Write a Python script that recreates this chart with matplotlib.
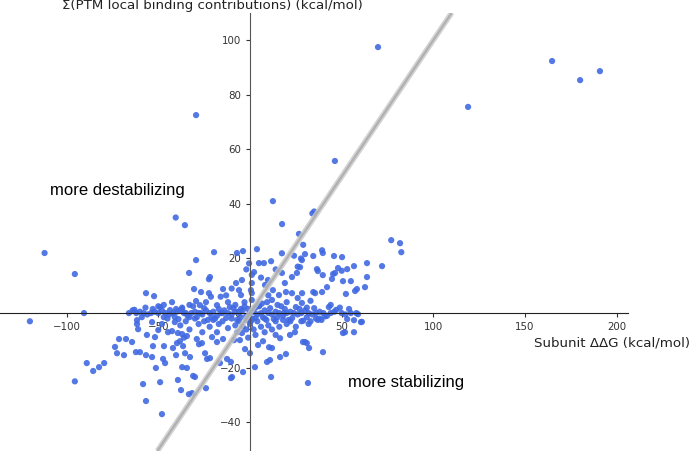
import numpy as np
import matplotlib
matplotlib.use("Agg")
import matplotlib.pyplot as plt

# ---- data (Subunit ddG, sum of PTM local binding contributions) ----
sparse_x = [-120, -112, -95.5, -90.5, -95.5, -29.4, -40.5, -35.5, 12.5, 17.5, 26.7, 29, 34, 35,
            46.3, 69.8, 118.9, 164.7, 180, 190.8]
sparse_y = [-3, 22, 14.3, 0, -25, 72.5, 35, 32.2, 41, 32.6, 29, 25, 36.5, 37.2,
            55.7, 97.4, 75.5, 92.3, 85.3, 88.6]

right_x = [77, 81.8, 82.5, 72, 63.8, 56.7, 53, 63.8, 55, 62.7, 58.3, 57.3, 52.3, 58.9, 56.7, 61,
           56.7, 51.8, 50.2, 45.8, 39.3, 39.7, 34.5, 30, 27.8, 27.3, 36.5, 37, 39.7, 45.3, 46.4,
           48, 50, 44.7, 50.7, 42, 39.3, 34.5, 35.5, 28.3, 38, 39, 60.5, 50.7, 32.2, 39.8, 30]
right_y = [26.7, 25.6, 22.3, 17.2, 18.3, 17.2, 16.1, 13.2, 11.7, 9.5, 8.8, 8.1, 7, -0.4, -2.6, -3.2,
           -7, -7, 20.5, 20.9, 23, 22, 20.9, 21.6, 20, 16.8, 16.1, 15.4, 13.9, 14.3, 14.7,
           16.5, 15.5, 12.5, 11.7, 9.5, 7.7, 7.7, 7.3, 3.7, -2, -2.5, -3.3, -7.3, -12.8, -14.3, -10.6]

upper_x = [-19.6, -3.8, 3.8, 17.4, -7.1, -0.5, 4.9, 7.6, 11.5, 26, 28.3, 2.2, 1, -4.4, -7.6, -14.7,
           1, -6, -4.9, 0.5, 1, 8.2, 9.8, 12.5, 15.8, 19.6, 19, 17.4, 22.9, 25.6, 22.9, 28.4, 12,
           9.3, 1, -12, -18, -21.8, -29.4, -33.2, -22.4, -30.5, -26.7, -22.4, -21.3, -56.7, -52.3,
           -42.5, -29.4, -27.3, -40.3, -43.6, -37, 24, -2, 6, 14, -10, -16,
           -8, -3, 5, 15, 20, 26, 31, 33, -24, -33, -47, -50, -57, -64, 44, 49, 54, 10, -13, -5, 3]
upper_y = [22.3, 22.7, 23.4, 21.9, 22, 18.2, 18.3, 18.3, 19, 17, 19.4, 15, 14, 12.1, 11, 8.8,
           11, 8.4, 6.6, 8.4, 7.3, 10.3, 12.1, 8.4, 6.6, 7.7, 11, 14.7, 13.2, 14.7, 7.3, 7.3, 4.8,
           4, 4.8, 4, 2.9, 13.2, 19.4, 14.7, 12.4, 8.8, 7.7, 7.3, 6, 7.3, 6.2,
           4, 4.4, 2.9, 1.5, 1.1, 1.5, 21, 16, 13, 16, 9, 6,
           3, 4, 2.5, 3, 4, 5.5, 2, 4.5, 4, 3, 3, 2.5, 2, 1, 3, 2, 1.5, 6.5, 6.5, 1.5, 2]

band_x = [-66, -62, -60, -58, -56, -54, -52, -50, -48, -46, -44, -42, -40, -38, -36, -34, -32, -30,
          -28, -26, -24, -22, -20, -18, -16, -14, -12, -10, -8, -6, -4, -2, 0, 2, 4, 6, 8, 10,
          12, 14, 16, 18, 20, 22, 24, 26, 28, 30, 32, 34, 36, 38, 40, 42, 44, 46, 50, 52, 55, 58,
          -59, -53, -47, -41, -37, -33, -29, -25, -21, -17, -13, -9, -5, -1, 3, 7, 11, 15, 19,
          23, 27, 31, 35, 41, 47, -63, -49, -39, -31, -23, -19, -11, -7, -3, 1, 5, 9, 13, 17, 21,
          25, 29, 37, 43, 53, -35, -27, -15, 0.5, 6.5, 18.5, 33]
band_y = [0, 0, 0.5, 0, -0.5, 0, 0.5, 0, 1, 0, -0.5, 0, 0.5, 1, 0, -1, 0, 0.5,
          0, -0.5, 1, 0, 0.5, -1, 0, 1, 0, -0.5, 0.5, 0, 1, -1, 0, 0.5, -0.5, 0, 1, 0,
          -0.5, 0.5, 0, -1, 0, 0.5, 0, -0.5, 0, 1, 0, -0.5, 0, 0.5, 0, -1, 0, 0.5, 0, -0.5, 0, 0,
          -1.5, 1.5, -1.5, -1.5, 2, -1.5, -1.5, 1.8, -1.5, 1.5, -1.8, 1.8, -1.5, 1.5, -1.8, -1.5,
          1.8, -1.5, 1.5, -1.8, 1.5, -1.5, 1.8, -1.2, 1.2, 1.2, 2.2, -2.2, 2.5, -2.5, -2, 2.2,
          -2.5, 2.5, -2.2, 2.8, -2.5, -2.2, 2.5, -2.5, 2.2, -2.8, -2.5, 2.2, -2.2, 0, 0, 0, -3, 3.5, 0, -3]

lower_x = [-61.6, -61, -56.2, -51.8, -50, -44.7, -42.5, -71.4, -67.6, -64.3, -73.6, -72.5, -68.7,
           -62.2, -60, -56.7, -53.4, -52.9, -46.9, -47.4, -46.3, -51.3, -42, -40.3, -39.8, -38.2,
           -36.5, -39.3, -37, -34.4, -32.7, -35.4, -37, -34.4, -31, -30, -39.3, -49, -58.3, -37.6,
           -33.3, -31.6, -24, -56.7, -48, -27.8, -26.2, -24.5, -23.4, -89, -85.5, -82.3, -79.5,
           -61.6, -53.4, -41, -20.7, -18, -14.7, -21.8, -16.4, -12.5, -10.4, -9.8, -2.7, 0, -8.7,
           -5.5, -4.4, 2.7, 4.4, 7.1, 10.4, 12, 9.3, 10.9, 11.5, 16.4, 19.6, 16.4, 21.8, 24.5, 28.9,
           31, 31.6, -3.8, -10.4,
           -30, -28, -25, -22, -20, -17, -15, -12, -10, -8, -6, -4, -2, 0, 2, 4, 6, 8, 10, 12, 14,
           16, 18, 20, 22, 25, 28, 32, 36, -35, -38, -45, -48, -33, -26, -18, -7, 3, 8, 14, -1, -2,
           1, -36, -29]
lower_y = [-4, -5.9, -8, -8.8, -6.2, -7, -6.6, -9.5, -9.5, -10.6, -12.4, -14.7, -15.4,
           -14.3, -14.3, -15.4, -16.1, -12.1, -12.1, -16.8, -18.3, -20.1, -12.8, -15.4, -11, -10.3,
           -12.1, -7.3, -7.7, -8.4, -16.1, -14.7, -19.8, -20.1, -23, -23.4, -24.5, -25.3, -26, -28.2,
           -29.7, -29.3, -27.5, -32.2, -37, -11.4, -11, -14.7, -16.8, -18.3, -21.2, -19.8, -18.3,
           -2.6, -3.3, -3.3, -8.8, -10.6, -9.5, -16.5, -18.3, -16.8, -17.9, -23.4, -13.2, -14.7, -9.9,
           -9.9, -7.3, -19.8, -11.7, -10.3, -12.5, -12.8, -17.9, -17.2, -23.4, -16.1, -15, -9.2, -8,
           -7, -10.6, -11, -25.6, -21.6, -23.8,
           -2, -4, -3, -5, -2.5, -4, -3, -5.5, -2, -4.5, -3, -5, -2.5, -4, -6, -3, -5, -2, -4.5,
           -6, -3, -5, -2.5, -4, -3, -5, -3, -4, -2, -3, -4.5, -2, -4, -6, -7, -7, -7, -8, -7, -8,
           -9, -6, -2, -9, -9.5]

subunit_ddg = np.array(sparse_x + right_x + upper_x + band_x + lower_x, dtype=float)
ptm_sum = np.array(sparse_y + right_y + upper_y + band_y + lower_y, dtype=float)

xticks = [-100, -50, 0, 50, 100, 150, 200]
yticks = [-40, -20, 0, 20, 40, 60, 80, 100]

# ---- figure ----
fig = plt.figure(figsize=(6.91, 4.51), dpi=100)
ax = fig.add_axes([0.0, 0.0, 628 / 691, 438.3 / 451])
ax.set_xlim(-136.3, 206.1)
ax.set_ylim(-50.5, 110)

ax.scatter(subunit_ddg, ptm_sum, s=20, color="royalblue", alpha=0.9,
           edgecolors="none", zorder=2)

diag = np.array(ax.get_ylim())
ax.plot(diag, diag, color="#c8c8c8", lw=4.0, alpha=0.8, zorder=3, solid_capstyle="butt")
ax.plot(diag, diag, color="#a8a8a8", lw=1.6, alpha=0.8, zorder=3, solid_capstyle="butt")

for side in ["top", "right"]:
    ax.spines[side].set_visible(False)
ax.spines["left"].set_position(("data", 0))
ax.spines["bottom"].set_position(("data", 0))
ax.spines["left"].set_color("#555555")
ax.spines["bottom"].set_color("#222222")

ax.set_xticks(xticks)
ax.set_yticks(yticks)
ax.set_xticklabels([f"{t:d}".replace("-", "\u2212") for t in xticks])
ax.set_yticklabels([f"{t:d}".replace("-", "\u2212") for t in yticks])
ax.tick_params(labelsize=7.4, length=3, pad=3.5, colors="#333333")
ax.patch.set_visible(False)

fig.text(62 / 691, 1 - 6 / 451, "\u03a3(PTM local binding contributions) (kcal/mol)",
         ha="left", va="center", fontsize=9.6, color="#222222")
fig.text(690 / 691, 1 - 343 / 451, "Subunit \u0394\u0394G (kcal/mol)",
         ha="right", va="center", fontsize=9.6, color="#222222")

ax.text(-109, 45, "more destabilizing", family="Liberation Sans", fontsize=12,
        ha="left", va="center", color="black")
ax.text(53.4, -25.3, "more stabilizing", family="Liberation Sans", fontsize=12,
        ha="left", va="center", color="black")

fig.savefig("out.png", dpi=100)
